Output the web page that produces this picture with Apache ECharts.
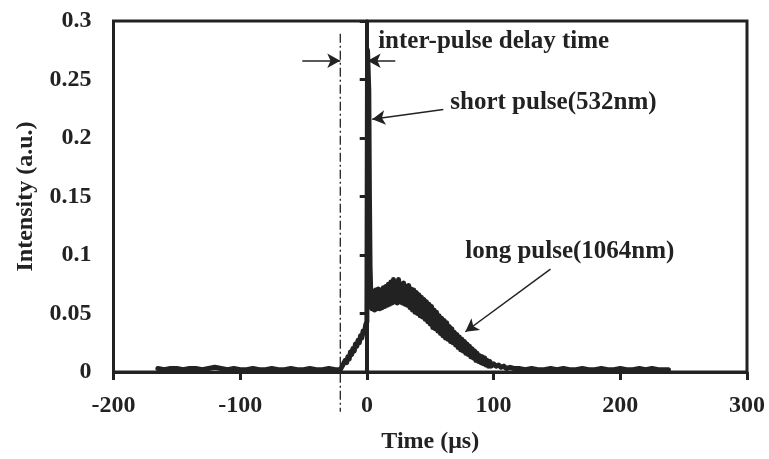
<!DOCTYPE html>
<html><head><meta charset="utf-8">
<script src="https://cdn.jsdelivr.net/npm/echarts@6/dist/echarts.min.js"></script>
<style>html,body{margin:0;padding:0;background:#fff}#c{width:769px;height:459px}</style>
</head><body><div id="c"></div>
<script>
// ---- data ----
const baselineTime = [-165,-160,-155,-150,-145,-140,-135,-130,-125,-120,-115,-110,-105,-100,-95,-90,-85,-80,-75,-70,-65,-60,-55,-50,-45,-40,-35,-30,-25,-21];
const baselineValue = [0.003,0.002,0.003,0.003,0.002,0.003,0.003,0.002,0.003,0.004,0.003,0.002,0.003,0.002,0.002,0.003,0.002,0.002,0.003,0.002,0.002,0.003,0.002,0.002,0.003,0.002,0.002,0.003,0.002,0.002];
const riseTime = [-19,-18,-17,-16,-15,-14,-13,-12,-11,-10,-9,-8,-7,-6,-5,-4,-3,-2,-1,0];
const riseValue = [0.006,0.005,0.010,0.008,0.013,0.011,0.017,0.015,0.020,0.018,0.024,0.022,0.027,0.025,0.031,0.029,0.035,0.033,0.040,0.043];
const spikeTime = [0.5,1.5,2,2.5];
const spikeValue = [0.275,0.24,0.15,0.09];
const longTime = [3,4,5,6,7,8,9,10,11,12,13,14,15,16,17,18,19,20,21,22,23,24,25,26,27,28,29,30,31,32,33,34,35,36,37,38,39,40,41,42,43,44,45,46,47,48,49,50,51,52,53,54,55,56,57,58,59,60,61,62,63,64,65,66,67,68,69,70,71,72,73,74,75,76,77,78,79,80,81,82,83,84,85,86,87,88,89,90,91,92,93,94,95,96,97,98,100,102,104,106,108,110,113,116,120];
const longValue = [0.070,0.054,0.069,0.053,0.070,0.054,0.071,0.054,0.070,0.055,0.072,0.056,0.073,0.057,0.075,0.058,0.077,0.059,0.079,0.060,0.076,0.059,0.079,0.060,0.075,0.059,0.076,0.058,0.073,0.057,0.074,0.055,0.071,0.053,0.070,0.051,0.068,0.050,0.066,0.048,0.064,0.047,0.062,0.045,0.060,0.043,0.058,0.041,0.056,0.038,0.053,0.037,0.051,0.035,0.048,0.033,0.046,0.031,0.044,0.029,0.042,0.028,0.039,0.026,0.037,0.025,0.034,0.023,0.032,0.021,0.030,0.019,0.028,0.018,0.026,0.016,0.024,0.015,0.022,0.013,0.020,0.012,0.018,0.010,0.016,0.009,0.014,0.008,0.013,0.007,0.012,0.006,0.010,0.005,0.009,0.005,0.007,0.005,0.006,0.004,0.005,0.003,0.004,0.003,0.003];
const tailTime = [125,130,135,140,145,150,155,160,165,170,175,180,185,190,195,200,205,210,215,220,225,230,235,238];
const tailValue = [0.002,0.003,0.002,0.002,0.003,0.002,0.003,0.002,0.002,0.003,0.002,0.002,0.003,0.002,0.002,0.003,0.002,0.002,0.003,0.002,0.003,0.002,0.002,0.002];

const xTicks = [-200,-100,0,100,200,300];
const yTicks = [0,0.05,0.1,0.15,0.2,0.25,0.3];
const delayStart = -21;   // dash-dot marker (long pulse onset)
const delayLineSpan = [0.289, -0.034];
const shortPulseTime = 0;

const labels = {
  delay: 'inter-pulse delay time',
  shortPulse: 'short pulse(532nm)',
  longPulse: 'long pulse(1064nm)',
  xName: 'Time (μs)',
  yName: 'Intensity (a.u.)'
};

// ---- build ----
const times = [].concat(baselineTime, riseTime, spikeTime, longTime, tailTime);
const values = [].concat(baselineValue, riseValue, spikeValue, longValue, tailValue);
const seriesData = times.map((t, i) => [t, values[i]]);

const INK = '#222';
const FONT = 'Liberation Serif';
const textStyle = {fontFamily: FONT, fontWeight: 'bold', color: INK};

const arrow = (from, to) => [{coord: from, symbol: 'none'}, {coord: to, symbol: 'arrow'}];

const chart = echarts.init(document.getElementById('c'), null, {renderer: 'canvas'});
chart.setOption({
  animation: false,
  backgroundColor: '#fff',
  grid: {left: 113.5, right: 22, top: 21, bottom: 86, show: true, borderColor: INK, borderWidth: 3, backgroundColor: 'transparent'},
  xAxis: {
    type: 'value', min: xTicks[0], max: xTicks[xTicks.length - 1], interval: 100,
    name: labels.xName, nameLocation: 'middle', nameGap: 58,
    nameTextStyle: Object.assign({fontSize: 24}, textStyle),
    axisLine: {show: true, onZero: false, lineStyle: {color: INK, width: 3}},
    axisTick: {show: true, inside: false, length: 8, lineStyle: {color: INK, width: 3}},
    axisLabel: Object.assign({fontSize: 24, margin: 22}, textStyle),
    splitLine: {show: false}
  },
  yAxis: [{
    type: 'value', min: yTicks[0], max: yTicks[yTicks.length - 1], interval: 0.05,
    name: labels.yName, nameLocation: 'middle', nameGap: 76, nameRotate: 90,
    nameTextStyle: Object.assign({fontSize: 24}, textStyle),
    axisLine: {show: true, lineStyle: {color: INK, width: 3}},
    axisTick: {show: false},
    axisLabel: Object.assign({fontSize: 24, margin: 22}, textStyle),
    splitLine: {show: false}
  }, {
    type: 'value', min: yTicks[0], max: yTicks[yTicks.length - 1], interval: 0.05,
    position: 'left', offset: -253.2,
    axisLine: {show: true, lineStyle: {color: INK, width: 3}},
    axisTick: {show: true, inside: false, length: 7, lineStyle: {color: INK, width: 3}},
    axisLabel: {show: false},
    splitLine: {show: false}
  }],
  series: [{
    type: 'line', data: seriesData, showSymbol: false, symbol: 'none',
    lineStyle: {color: INK, width: 5, join: 'round', cap: 'round'}, clip: false, z: 3,
    markLine: {
      silent: true, symbolSize: [11, 13], animation: false,
      label: {show: false},
      lineStyle: {color: INK, width: 1.5, type: 'solid', cap: 'butt'},
      data: [
        arrow([-51, 0.266], [delayStart, 0.266]),
        arrow([22.4, 0.266], [shortPulseTime + 0.6, 0.266]),
        arrow([60.3, 0.2244], [4.2, 0.216]),
        arrow([144.9, 0.088], [77.7, 0.0344])
      ]
    },
    markPoint: {
      silent: true, symbol: 'circle', symbolSize: 0,
      label: Object.assign({show: true, position: 'right', distance: 0, fontSize: 25}, textStyle),
      data: [
        {coord: [8.9, 0.2824], value: labels.delay, label: {formatter: labels.delay}},
        {coord: [65.8, 0.2304], value: labels.shortPulse, label: {formatter: labels.shortPulse}},
        {coord: [77.7, 0.1026], value: labels.longPulse, label: {formatter: labels.longPulse}}
      ]
    }
  }, {
    type: 'line', name: 'delay marker', showSymbol: false, symbol: 'none', clip: false, z: 2,
    data: [[delayStart, delayLineSpan[0]], [delayStart, delayLineSpan[1]]],
    lineStyle: {color: INK, width: 1.3, type: [9, 3, 2, 3]}
  }]
});
</script></body></html>
